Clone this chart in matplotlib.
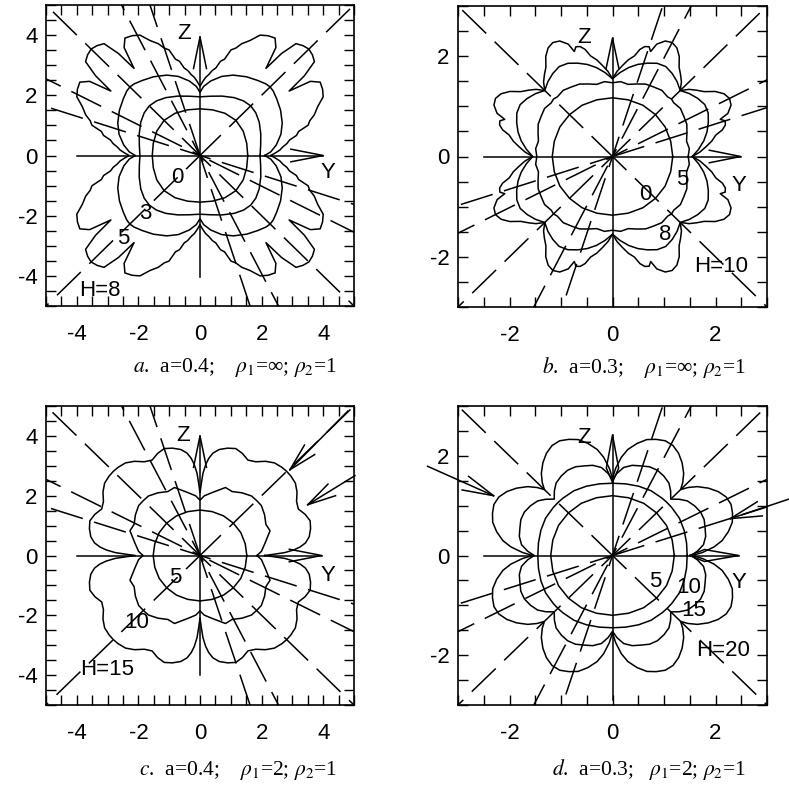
"""Wavefront diagrams in the Y-Z plane for four source configurations."""
import numpy as np
import matplotlib
matplotlib.use("Agg")
import matplotlib.pyplot as plt
from matplotlib.ticker import MultipleLocator

plt.rcParams["font.family"] = ["Liberation Sans", "DejaVu Sans"]
plt.rcParams["mathtext.fontset"] = "stix"
plt.rcParams["axes.unicode_minus"] = False
plt.rcParams["lines.scale_dashes"] = False

# Fronts are read over one octant: angle from +Y (deg) and radius.
# The closed curve is rebuilt by mirroring about the diagonal and both axes.

# --- a: a=0.4, rho1=inf, H=8
A_PHI_0 = [0, 15, 30, 45]
A_R_0 = [1.55, 1.57, 1.62, 1.65]
A_PHI_3 = [0, 10, 20, 30, 38, 45]
A_R_3 = [1.95, 2.0, 2.1, 2.22, 2.3, 2.33]
A_PHI_5 = [0, 3, 8, 15, 22, 30, 37, 42, 45]
A_R_5 = [2.1, 2.3, 2.5, 2.72, 2.88, 3.02, 3.12, 3.2, 3.22]
A_PHI_8 = [0, 2, 4, 6, 8, 10, 12, 14, 16, 18, 20, 23, 26, 29, 32, 34.5, 36.5, 38, 40, 42.5, 45]
A_R_8 = [2.3, 2.45, 2.6, 2.7, 2.85, 2.95, 3.2, 3.3, 3.65, 3.75, 3.95, 4.15, 4.45, 4.55,
         4.6, 4.35, 3.6, 4.3, 4.85, 4.95, 5.0]

# --- b: a=0.3, rho1=inf, H=10
B_PHI_0 = [0, 15, 30, 45]
B_R_0 = [1.17, 1.17, 1.18, 1.18]
B_PHI_5 = [0, 6, 12, 18, 24, 30, 36, 42, 45]
B_R_5 = [1.47, 1.5, 1.47, 1.52, 1.58, 1.6, 1.63, 1.6, 1.62]
B_PHI_8 = [0, 5, 10, 15, 20, 25, 30, 35, 40, 45]
B_R_8 = [1.55, 1.68, 1.8, 1.9, 1.98, 2.05, 2.07, 2.02, 1.95, 1.86]
B_PHI_10 = [0, 3, 6, 9, 12, 14, 16, 18, 19.5, 21, 24, 27, 30, 33, 36, 39, 42, 45]
B_R_10 = [1.55, 1.7, 1.82, 1.95, 2.05, 2.2, 2.28, 2.3, 2.22, 2.4, 2.52, 2.55, 2.5, 2.38,
          2.2, 2.1, 2.0, 1.86]

# --- c: a=0.4, rho1=2, H=15
C_PHI_5 = [0, 15, 30, 45]
C_R_5 = [1.52, 1.52, 1.53, 1.53]
C_PHI_10 = [0, 4, 11, 20, 26, 33, 40, 45]
C_R_10 = [1.85, 2.0, 2.15, 2.42, 2.38, 2.5, 2.6, 2.6]
C_PHI_15 = [0, 1, 2, 3.5, 5, 7, 10, 14, 18, 22, 26, 30, 34, 38, 42, 45]
C_R_15 = [2.1, 2.4, 2.75, 3.05, 3.26, 3.45, 3.6, 3.7, 3.76, 3.68, 3.55, 3.62, 3.8, 3.93,
          3.97, 3.98]

# --- d: a=0.3, rho1=2, H=20
D_PHI_5 = [0, 15, 30, 45]
D_R_5 = [1.2, 1.2, 1.21, 1.21]
D_PHI_10 = [0, 10, 20, 30, 40, 45]
D_R_10 = [1.45, 1.46, 1.48, 1.5, 1.5, 1.5]
D_PHI_15 = [0, 3, 7, 12, 17, 22, 27, 32, 37, 41, 45]
D_R_15 = [1.52, 1.65, 1.78, 1.85, 1.88, 1.92, 1.92, 1.88, 1.82, 1.72, 1.6]
D_PHI_20 = [0, 2, 5, 8, 12, 16, 20, 24, 28, 32, 36, 40, 43, 45]
D_R_20 = [1.55, 1.75, 1.98, 2.15, 2.3, 2.42, 2.48, 2.52, 2.5, 2.42, 2.3, 2.15, 2.0, 1.87]

# ray directions (deg); each ray also runs the opposite way
RAYS_AC = [108, 117, 135, 153, 162, 45]
RAYS_BD = [18, 27, 45, 63, 72, 135]
RAY_OFFSETS = [0, 12, 6, 18, 9, 3]

# contour labels: text, y, z
A_LABELS = [("0", -0.75, -0.73), ("3", -1.79, -1.93), ("5", -2.5, -2.77), ("H=8", -3.25, -4.5)]
B_LABELS = [("0", 0.64, -0.75), ("5", 1.36, -0.45), ("8", 1.03, -1.55), ("H=10", 2.1, -2.2)]
C_LABELS = [("5", -0.81, -0.73), ("10", -2.05, -2.23), ("H=15", -3.0, -3.8)]
D_LABELS = [("5", 0.83, -0.52), ("10", 1.48, -0.64), ("15", 1.57, -1.1), ("H=20", 2.15, -1.9)]

# incoming arrows: tail, tip
C_ARROWS = [((4.8, 4.83), (2.92, 2.87)), ((5.03, 2.67), (3.5, 1.7))]
D_ARROWS = [((-3.59, 1.79), (-2.31, 1.2)), ((3.42, 1.13), (2.29, 0.74))]

CAPTIONS = [
    r"$a$.  a=0.4;    $\rho_1$=∞; $\rho_2$=1",
    r"$b$.  a=0.3;    $\rho_1$=∞; $\rho_2$=1",
    r"$c$.  a=0.4;    $\rho_1$=2; $\rho_2$=1",
    r"$d$.  a=0.3;   $\rho_1$=2; $\rho_2$=1",
]

LW = 1.1
FS = 16


def full_curve(phi, r):
    phi = np.asarray(phi, float)
    r = np.asarray(r, float)
    qp = np.concatenate([phi, 90 - phi[::-1][1:]])
    qr = np.concatenate([r, r[::-1][1:]])
    ang = np.concatenate([qp, 180 - qp[::-1][1:], 180 + qp[1:], 360 - qp[::-1][1:]])
    rr = np.concatenate([qr, qr[::-1][1:], qr[1:], qr[::-1][1:]])
    t = np.radians(ang)
    return rr * np.cos(t), rr * np.sin(t)


def draw_rays(ax, angles, reach):
    for k, a in enumerate(angles):
        for s in (0, 180):
            t = np.radians(a + s)
            off = RAY_OFFSETS[k % len(RAY_OFFSETS)] + (7 if s else 0)
            ax.plot([0, reach * np.cos(t)], [0, reach * np.sin(t)], color="k", lw=LW,
                    linestyle=(off, (24, 8.5)), zorder=2)


def draw_arrow(ax, tail, tip, head, half=14):
    (x0, y0), (x1, y1) = tail, tip
    ax.plot([x0, x1], [y0, y1], color="k", lw=LW, clip_on=False, zorder=3)
    back = np.arctan2(y0 - y1, x0 - x1)
    for sgn in (-1, 1):
        t = back + sgn * np.radians(half)
        ax.plot([x1, x1 + head * np.cos(t)], [y1, y1 + head * np.sin(t)],
                color="k", lw=LW, clip_on=False, zorder=3)


def setup_axes(ax, lim):
    ax.set_xlim(-lim, lim)
    ax.set_ylim(-lim, lim)
    ax.xaxis.set_major_locator(MultipleLocator(2))
    ax.yaxis.set_major_locator(MultipleLocator(2))
    ax.xaxis.set_minor_locator(MultipleLocator(0.5))
    ax.yaxis.set_minor_locator(MultipleLocator(0.5))
    ax.tick_params(which="both", direction="in", top=True, right=True, length=7, width=1,
                   labelsize=FS)
    ax.tick_params(axis="x", pad=13)
    ax.tick_params(axis="y", pad=6)
    ax.xaxis.set_major_formatter(lambda v, p: f"{v:.0f}")
    ax.yaxis.set_major_formatter(lambda v, p: f"{v:.0f}")
    for sp in ax.spines.values():
        sp.set_linewidth(1.2)


def axis_cross(ax, y_span, z_span, y_tip, z_tip, head, w, leaf=False):
    ax.plot(y_span, [0, 0], color="k", lw=LW, zorder=3)
    ax.plot([0, 0], z_span, color="k", lw=LW, zorder=3)
    if leaf:
        ax.plot([y_tip - head, y_tip - 0.7 * head, y_tip, y_tip - 0.7 * head, y_tip - head],
                [0, w, 0, -w, 0], color="k", lw=LW, zorder=3)
        ax.plot([0, w, 0, -w, 0],
                [z_tip - head, z_tip - 0.7 * head, z_tip, z_tip - 0.7 * head, z_tip - head],
                color="k", lw=LW, zorder=3)
    else:
        ax.plot([y_tip - head, y_tip, y_tip - head], [w, 0, -w], color="k", lw=LW, zorder=3)
        ax.plot([-w, 0, w], [z_tip - head, z_tip, z_tip - head], color="k", lw=LW, zorder=3)


def draw_labels(ax, labels, yz_pos):
    for txt, y, z in labels:
        ax.text(y, z, txt, fontsize=FS, ha="center", va="center", zorder=4)
    ax.text(*yz_pos[0], "Z", fontsize=FS, ha="center", va="center", zorder=4)
    ax.text(*yz_pos[1], "Y", fontsize=FS, ha="center", va="center", zorder=4)


fig = plt.figure(figsize=(7.89, 7.97), dpi=100)
W, H = 789, 797
rects = [(46, 5, 308, 301), (458, 6, 309, 301), (46, 406, 308, 299), (458, 406, 309, 299)]
axes = [fig.add_axes([x / W, 1 - (y + h) / H, w / W, h / H]) for x, y, w, h in rects]
ax_a, ax_b, ax_c, ax_d = axes

panels = [
    (ax_a, 5, [(A_PHI_0, A_R_0), (A_PHI_3, A_R_3), (A_PHI_5, A_R_5), (A_PHI_8, A_R_8)], RAYS_AC),
    (ax_b, 3, [(B_PHI_0, B_R_0), (B_PHI_5, B_R_5), (B_PHI_8, B_R_8), (B_PHI_10, B_R_10)], RAYS_BD),
    (ax_c, 5, [(C_PHI_5, C_R_5), (C_PHI_10, C_R_10), (C_PHI_15, C_R_15)], RAYS_AC),
    (ax_d, 3, [(D_PHI_5, D_R_5), (D_PHI_10, D_R_10), (D_PHI_15, D_R_15), (D_PHI_20, D_R_20)], RAYS_BD),
]

for ax, lim, fronts, rays in panels:
    setup_axes(ax, lim)
    draw_rays(ax, rays, 2 * lim)
    for phi, r in fronts:
        y, z = full_curve(phi, r)
        ax.plot(y, z, color="k", lw=LW, zorder=3)

axis_cross(ax_a, [-4.0, 4.0], [-4.05, 3.94], 4.0, 3.94, 1.05, 0.21)
axis_cross(ax_b, [-2.5, 2.49], [-3.0, 2.36], 2.49, 2.36, 0.61, 0.125)
axis_cross(ax_c, [-4.0, 3.95], [-4.0, 4.0], 3.95, 4.0, 1.05, 0.21)
axis_cross(ax_d, [-2.5, 2.45], [-2.9, 2.42], 2.45, 2.42, 0.95, 0.12, leaf=True)

for tail, tip in C_ARROWS:
    draw_arrow(ax_c, tail, tip, 0.95)
for tail, tip in D_ARROWS:
    draw_arrow(ax_d, tail, tip, 0.62)

draw_labels(ax_a, A_LABELS, [(-0.5, 4.05), (4.15, -0.57)])
draw_labels(ax_b, B_LABELS, [(-0.56, 2.37), (2.45, -0.58)])
draw_labels(ax_c, C_LABELS, [(-0.55, 4.0), (4.16, -0.67)])
draw_labels(ax_d, D_LABELS, [(-0.56, 2.37), (2.45, -0.54)])

cap_pos = [(337, 368), (746, 368), (337, 770), (746, 770)]
for (x, y), txt in zip(cap_pos, CAPTIONS):
    fig.text(x / W, 1 - y / H, txt, fontsize=15.5, ha="right", va="center",
             family=["Liberation Serif", "DejaVu Serif"])

fig.savefig("out.png", dpi=100)
